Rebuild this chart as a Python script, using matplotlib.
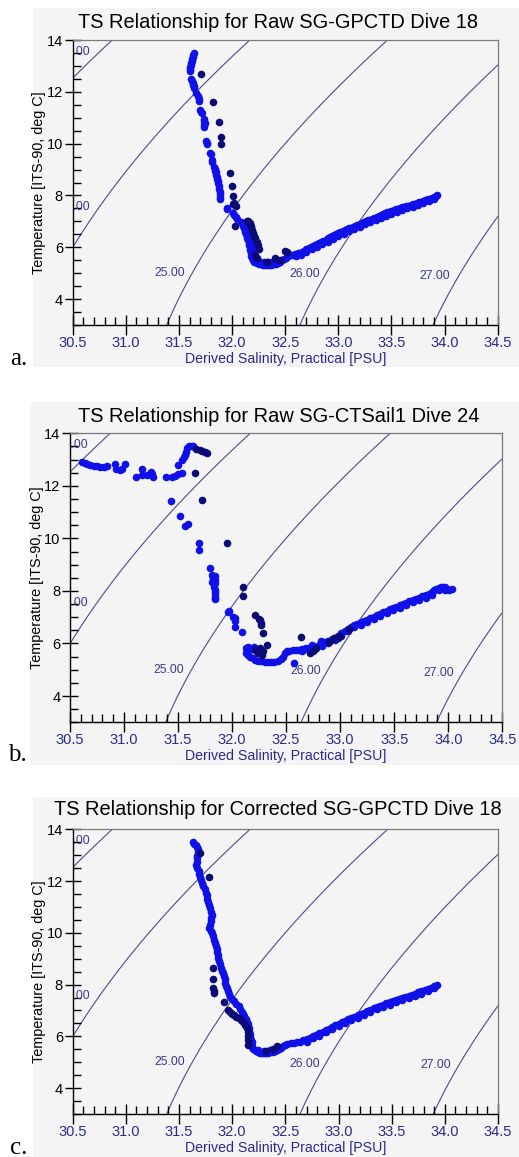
import numpy as np
import matplotlib
matplotlib.use('Agg')
import matplotlib.pyplot as plt
from matplotlib.patches import Rectangle
from matplotlib.ticker import MultipleLocator

plt.rcParams['font.family'] = ['Liberation Sans', 'DejaVu Sans']

# ---------------- data ----------------
titles = ['TS Relationship for Raw SG-GPCTD Dive 18',
          'TS Relationship for Raw SG-CTSail1 Dive 24',
          'TS Relationship for Corrected SG-GPCTD Dive 18']
letters = ['a.', 'b.', 'c.']
xlabel = 'Derived Salinity, Practical [PSU]'
ylabel = 'Temperature [ITS-90, deg C]'
x_ticks = [30.5, 31.0, 31.5, 32.0, 32.5, 33.0, 33.5, 34.0, 34.5]
y_ticks = [4, 6, 8, 10, 12, 14]
sigma_levels = [23.0, 24.0, 25.0, 26.0, 27.0]

# (salinity, temperature) samples
# panel a - bright blue series
pts_a1 = [(31.64, 13.49), (31.635, 13.42), (31.63, 13.35), (31.625, 13.28), (31.62, 13.20),
          (31.615, 13.12), (31.61, 13.04), (31.605, 12.96), (31.60, 12.88), (31.60, 12.80),
          (31.615, 12.50), (31.625, 12.42), (31.63, 12.35), (31.635, 12.28), (31.64, 12.21),
          (31.645, 12.14), (31.665, 11.95), (31.675, 11.85), (31.685, 11.72), (31.69, 11.66),
          (31.70, 11.30), (31.705, 11.22), (31.715, 11.18), (31.735, 10.95), (31.74, 10.88),
          (31.745, 10.80), (31.74, 10.72), (31.735, 10.65), (31.755, 10.12), (31.76, 10.04),
          (31.765, 9.98), (31.795, 9.65), (31.80, 9.60), (31.81, 9.35), (31.815, 9.28),
          (31.83, 9.10), (31.835, 9.02), (31.84, 8.96), (31.845, 8.90), (31.85, 8.80),
          (31.855, 8.72), (31.86, 8.64), (31.865, 8.55), (31.87, 8.48), (31.875, 8.38),
          (31.88, 8.25), (31.885, 8.15), (31.885, 8.05), (31.89, 7.95), (31.89, 7.85),
          (31.95, 7.51), (31.955, 7.47), (32.005, 7.33), (32.015, 7.26), (32.035, 7.15),
          (32.045, 7.10), (32.08, 6.98), (32.095, 6.92), (32.105, 6.84), (32.115, 6.74),
          (32.12, 6.66), (32.125, 6.58), (32.13, 6.52), (32.14, 6.44), (32.145, 6.36),
          (32.15, 6.28), (32.155, 6.18), (32.16, 6.08), (32.165, 5.98), (32.17, 5.88),
          (32.175, 5.78), (32.18, 5.68), (32.185, 5.58), (32.195, 5.50), (32.21, 5.44),
          (32.23, 5.40), (32.25, 5.37), (32.27, 5.34), (32.29, 5.32), (32.31, 5.31),
          (32.33, 5.31), (32.35, 5.32), (32.37, 5.33), (32.39, 5.35), (32.41, 5.37),
          (32.43, 5.41), (32.45, 5.45), (32.47, 5.50), (32.49, 5.55), (32.51, 5.60),
          (32.53, 5.66), (32.55, 5.70), (32.57, 5.72), (32.59, 5.74), (32.62, 5.76),
          (32.64, 5.79), (32.66, 5.83), (32.68, 5.87), (32.70, 5.92), (32.72, 5.96),
          (32.74, 6.01), (32.76, 6.05), (32.78, 6.09), (32.80, 6.13), (32.82, 6.17),
          (32.84, 6.21), (32.86, 6.25), (32.88, 6.29), (32.90, 6.34), (32.92, 6.39),
          (32.94, 6.44), (32.96, 6.48), (32.98, 6.52), (33.00, 6.55), (33.02, 6.59),
          (33.04, 6.63), (33.06, 6.66), (33.08, 6.70), (33.10, 6.73), (33.12, 6.76),
          (33.14, 6.80), (33.16, 6.84), (33.18, 6.87), (33.20, 6.91), (33.22, 6.95),
          (33.24, 6.98), (33.26, 7.01), (33.28, 7.04), (33.30, 7.07), (33.32, 7.11),
          (33.34, 7.14), (33.36, 7.18), (33.38, 7.21), (33.40, 7.25), (33.42, 7.29),
          (33.44, 7.32), (33.46, 7.35), (33.48, 7.38), (33.50, 7.41), (33.52, 7.43),
          (33.54, 7.46), (33.56, 7.49), (33.58, 7.51), (33.60, 7.54), (33.62, 7.56),
          (33.64, 7.59), (33.66, 7.61), (33.68, 7.63), (33.70, 7.66), (33.72, 7.68),
          (33.74, 7.70), (33.76, 7.73), (33.78, 7.76), (33.80, 7.79), (33.82, 7.82),
          (33.84, 7.85), (33.86, 7.88), (33.88, 7.91), (33.90, 7.94), (33.92, 7.97),
          (33.93, 8.00),
          (32.60, 5.68), (32.65, 5.72), (32.70, 5.82), (32.75, 5.92), (32.80, 6.02),
          (32.85, 6.12), (32.90, 6.22), (32.95, 6.32), (33.00, 6.42), (33.05, 6.52),
          (33.10, 6.62), (33.15, 6.70), (33.20, 6.80), (33.25, 6.88), (33.30, 6.97),
          (33.35, 7.05), (33.40, 7.13), (33.45, 7.21), (33.50, 7.30), (33.55, 7.37),
          (33.60, 7.44), (33.65, 7.50), (33.70, 7.56), (33.75, 7.62), (33.80, 7.70),
          (33.85, 7.77), (33.90, 7.86),
          (32.22, 5.50), (32.26, 5.45), (32.30, 5.42), (32.34, 5.42), (32.38, 5.44),
          (32.42, 5.47), (32.13, 6.85), (32.14, 6.75), (32.15, 6.65), (32.16, 6.55),
          (32.17, 6.40), (32.18, 6.25), (32.19, 6.10), (32.195, 5.95), (32.20, 5.80),
          (32.20, 5.65)]

# panel a - dark navy series
pts_a2 = [(31.71, 12.69), (31.82, 11.60), (31.877, 10.83), (31.90, 10.25), (31.893, 9.98),
          (31.98, 8.86), (32.00, 8.37), (32.005, 7.96), (32.02, 7.70), (32.04, 7.61),
          (32.01, 7.68), (32.03, 6.84), (32.14, 7.03), (32.15, 7.00), (32.17, 6.95),
          (32.175, 6.83), (32.18, 6.75), (32.19, 6.65), (32.20, 6.54), (32.21, 6.45),
          (32.22, 6.35), (32.23, 6.22), (32.24, 6.10), (32.25, 5.93), (32.22, 5.71),
          (32.23, 5.60), (32.33, 5.45), (32.40, 5.58), (32.45, 5.50), (32.50, 5.84),
          (32.52, 5.80)]

# panel b - bright blue series
pts_b1 = [(30.61, 12.92), (30.64, 12.86), (30.66, 12.82), (30.685, 12.79), (30.72, 12.77),
          (30.75, 12.76), (30.78, 12.72), (30.81, 12.71), (30.84, 12.76), (30.92, 12.83),
          (30.93, 12.63), (30.96, 12.60), (30.98, 12.63), (31.01, 12.83), (31.11, 12.32),
          (31.17, 12.63), (31.17, 12.41), (31.21, 12.40), (31.25, 12.54), (31.26, 12.45),
          (31.27, 12.35), (31.385, 12.32), (31.44, 12.35), (31.47, 12.38), (31.50, 12.45),
          (31.50, 12.79), (31.54, 12.50), (31.54, 12.98), (31.555, 13.10), (31.56, 13.18),
          (31.57, 13.30), (31.58, 13.43), (31.60, 13.50), (31.625, 13.52), (31.64, 13.50),
          (31.43, 11.44), (31.52, 10.85), (31.56, 10.47), (31.59, 10.55), (31.69, 9.84),
          (31.69, 9.56), (31.80, 8.86), (31.81, 8.60), (31.82, 8.50), (31.83, 8.45),
          (31.84, 8.55), (31.845, 8.40), (31.84, 8.30), (31.83, 8.25), (31.835, 8.15),
          (31.84, 8.05), (31.845, 7.95), (31.84, 7.85), (31.84, 7.75), (31.845, 7.70),
          (31.81, 8.35), (31.96, 7.21), (31.97, 7.25), (32.01, 7.00), (32.03, 6.96),
          (32.03, 6.85), (32.03, 6.64), (32.09, 6.45),
          (32.13, 5.81), (32.15, 5.88), (32.14, 5.75), (32.13, 5.65), (32.15, 5.58),
          (32.17, 5.50), (32.19, 5.44), (32.21, 5.39), (32.24, 5.35), (32.27, 5.32),
          (32.30, 5.30), (32.33, 5.29), (32.36, 5.30), (32.39, 5.31), (32.42, 5.34),
          (32.45, 5.40), (32.47, 5.50), (32.49, 5.62), (32.51, 5.70), (32.53, 5.73),
          (32.57, 5.24), (32.18, 5.80), (32.20, 5.87),
          (32.56, 5.75), (32.59, 5.75), (32.62, 5.77), (32.65, 5.79), (32.68, 5.81),
          (32.71, 5.84), (32.74, 5.86), (32.77, 5.88), (32.80, 5.93), (32.83, 5.99),
          (32.86, 6.05), (32.89, 6.11), (32.92, 6.16), (32.95, 6.22), (32.98, 6.30),
          (33.01, 6.38), (33.04, 6.47), (33.07, 6.56), (33.10, 6.64), (33.13, 6.70),
          (33.16, 6.75), (33.19, 6.80), (33.22, 6.85), (33.25, 6.90), (33.28, 6.96),
          (33.31, 7.02), (33.34, 7.08), (33.37, 7.14), (33.40, 7.20), (33.43, 7.25),
          (33.46, 7.30), (33.49, 7.35), (33.52, 7.40), (33.55, 7.45), (33.58, 7.50),
          (33.61, 7.55), (33.64, 7.60), (33.67, 7.65), (33.70, 7.70), (33.73, 7.75),
          (33.76, 7.80), (33.79, 7.84), (33.82, 7.88), (33.85, 7.95), (33.87, 8.02),
          (33.89, 8.08), (33.91, 8.12), (33.93, 8.15), (33.95, 8.16), (33.97, 8.14),
          (33.99, 8.08), (34.01, 8.05), (34.03, 8.06),
          (32.65, 5.70), (32.71, 5.75), (32.77, 5.80), (32.83, 5.90), (32.89, 6.02),
          (32.95, 6.13), (33.01, 6.29), (33.07, 6.47), (33.13, 6.61), (33.19, 6.71),
          (33.25, 6.81), (33.31, 6.93), (33.37, 7.05), (33.43, 7.16), (33.49, 7.26),
          (33.55, 7.36), (33.61, 7.46), (33.67, 7.56), (33.73, 7.66), (33.79, 7.75),
          (33.85, 7.86), (33.91, 8.03), (33.97, 8.05), (32.74, 5.95), (32.82, 6.08)]

# panel b - dark navy series
pts_b2 = [(31.67, 13.39), (31.70, 13.37), (31.72, 13.34), (31.75, 13.28), (31.77, 13.24),
          (31.66, 12.50), (31.72, 11.46), (31.95, 9.81), (32.10, 8.16), (32.10, 7.81),
          (32.21, 7.07), (32.25, 6.93), (32.26, 6.89), (32.27, 6.78), (32.27, 6.70),
          (32.29, 6.41), (32.32, 5.94), (32.26, 5.81), (32.29, 5.70), (32.24, 5.62),
          (32.28, 5.55), (32.21, 5.75), (32.64, 6.24), (32.72, 5.62), (32.75, 5.72),
          (32.78, 5.81), (32.90, 6.05), (32.94, 6.20), (32.98, 6.20), (33.00, 6.30),
          (33.08, 6.55)]

# panel c - bright blue series
pts_c1 = [(31.63, 13.49), (31.645, 13.45), (31.66, 13.40), (31.67, 13.33), (31.675, 13.25),
          (31.68, 13.18), (31.675, 13.08), (31.67, 12.98), (31.665, 12.88), (31.665, 12.75),
          (31.66, 12.62), (31.67, 12.50), (31.685, 12.38), (31.69, 12.28), (31.70, 12.15),
          (31.71, 12.04), (31.72, 11.92), (31.73, 11.80), (31.745, 11.68), (31.755, 11.55),
          (31.76, 11.45), (31.765, 11.32), (31.775, 11.20), (31.785, 11.08), (31.795, 10.95),
          (31.80, 10.82), (31.81, 10.70), (31.805, 10.58), (31.80, 10.45), (31.79, 10.32),
          (31.785, 10.20), (31.80, 10.08), (31.81, 9.98), (31.82, 9.86), (31.83, 9.74),
          (31.84, 9.62), (31.85, 9.50), (31.855, 9.38), (31.86, 9.26), (31.865, 9.14),
          (31.87, 9.02), (31.88, 8.90), (31.885, 8.78), (31.895, 8.66), (31.905, 8.54),
          (31.915, 8.44), (31.92, 8.32), (31.93, 8.20), (31.935, 8.08), (31.945, 7.96),
          (31.95, 7.86), (31.96, 7.74), (31.97, 7.62), (31.98, 7.52), (32.00, 7.44),
          (32.02, 7.36), (32.04, 7.26), (32.06, 7.16), (32.075, 7.06), (32.09, 6.96),
          (32.10, 6.86), (32.115, 6.77), (32.13, 6.66), (32.14, 6.56), (32.15, 6.46),
          (32.155, 6.34), (32.16, 6.22), (32.165, 6.10), (32.17, 5.98), (32.175, 5.86),
          (32.18, 5.74), (32.185, 5.62), (32.20, 5.52), (32.22, 5.45), (32.24, 5.40),
          (32.26, 5.37), (32.28, 5.35), (32.30, 5.34), (32.32, 5.35), (32.34, 5.37),
          (32.36, 5.39), (32.38, 5.41), (32.40, 5.44), (32.42, 5.47), (32.44, 5.51),
          (32.46, 5.56), (32.48, 5.61), (32.50, 5.66), (32.52, 5.71), (32.55, 5.74),
          (32.58, 5.76), (32.61, 5.78), (32.64, 5.80),
          (32.67, 5.84), (32.70, 5.89), (32.73, 5.95), (32.76, 6.00), (32.79, 6.06),
          (32.82, 6.12), (32.85, 6.18), (32.88, 6.24), (32.91, 6.30), (32.94, 6.36),
          (32.97, 6.43), (33.00, 6.49), (33.03, 6.55), (33.06, 6.60), (33.09, 6.66),
          (33.12, 6.71), (33.15, 6.76), (33.18, 6.81), (33.21, 6.87), (33.24, 6.92),
          (33.27, 6.98), (33.30, 7.03), (33.33, 7.08), (33.36, 7.13), (33.39, 7.18),
          (33.42, 7.22), (33.45, 7.27), (33.48, 7.31), (33.51, 7.35), (33.54, 7.39),
          (33.57, 7.44), (33.60, 7.48), (33.63, 7.52), (33.66, 7.57), (33.69, 7.61),
          (33.72, 7.65), (33.75, 7.70), (33.78, 7.74), (33.81, 7.79), (33.84, 7.83),
          (33.87, 7.88), (33.90, 7.94), (33.93, 8.00),
          (32.70, 5.80), (32.76, 5.92), (32.82, 6.03), (32.88, 6.15), (32.94, 6.27),
          (33.00, 6.40), (33.06, 6.51), (33.12, 6.62), (33.18, 6.72), (33.24, 6.83),
          (33.30, 6.94), (33.36, 7.04), (33.42, 7.13), (33.48, 7.22), (33.54, 7.31),
          (33.60, 7.39), (33.66, 7.48), (33.72, 7.56), (33.78, 7.65), (33.84, 7.75),
          (33.90, 7.86), (32.24, 5.48), (32.30, 5.44), (32.36, 5.46), (32.42, 5.54),
          (32.19, 5.60), (32.19, 5.80)]

# panel c - dark navy series
pts_c2 = [(31.70, 13.10), (31.785, 12.15), (31.82, 8.63), (31.815, 8.21), (31.82, 7.86),
          (31.825, 7.76), (31.83, 7.67), (31.92, 7.31), (31.96, 7.00), (31.98, 6.95),
          (32.00, 6.88), (32.02, 6.82), (32.04, 6.76), (32.06, 6.70), (32.08, 6.62),
          (32.10, 6.54), (32.12, 6.44), (32.135, 6.32), (32.145, 6.15), (32.15, 6.00),
          (32.15, 5.85), (32.15, 5.67), (32.32, 5.42), (32.38, 5.50), (32.42, 5.61)]

panel_pts = [(pts_a1, pts_a2), (pts_b1, pts_b2), (pts_c1, pts_c2)]

# contour label positions (S, T) and texts
clabel_pos = [(30.665, 13.55, '23.00', 'right'), (30.665, 7.55, '24.00', 'right'),
              (31.41, 5.0, '25.00', 'center'), (32.68, 4.95, '26.00', 'center'),
              (33.91, 4.88, '27.00', 'center')]


def sigma_t(S, T):
    rho_w = (999.842594 + 6.793952e-2 * T - 9.095290e-3 * T**2 + 1.001685e-4 * T**3
             - 1.120083e-6 * T**4 + 6.536332e-9 * T**5)
    A = 0.824493 - 4.0899e-3 * T + 7.6438e-5 * T**2 - 8.2467e-7 * T**3 + 5.3875e-9 * T**4
    B = -5.72466e-3 + 1.0227e-4 * T - 1.6546e-6 * T**2
    C = 4.8314e-4
    return rho_w + A * S + B * S**1.5 + C * S**2 - 1000.0


# ---------------- layout (pixels) ----------------
W, H = 519, 1157
fig = plt.figure(figsize=(W / 100, H / 100), dpi=100)
fig.patch.set_facecolor('white')

BG = '#f4f4f4'
NAVY_TXT = '#2a2a8c'
CONT = '#4d4d88'
BRIGHT = '#1010e8'
DARK = '#0b0b78'

bg_boxes = [(33, 8, 519, 367), (30, 402, 519, 765), (33, 797, 519, 1157)]
ax_boxes = [(72.7, 40, 497.7, 325), (70, 433.3, 502.3, 722.3), (72.7, 829.3, 498, 1114)]
title_pos = [(278.5, 28.5), (279, 421.5), (277.5, 815)]
letter_pos = [(10, 365), (8, 761), (10, 1154)]
ylabel_x = [39.5, 37.5, 39.5]

Sg, Tg = np.meshgrid(np.linspace(30.0, 35.0, 300), np.linspace(2.0, 15.0, 300))
SIG = sigma_t(Sg, Tg)

for i in range(3):
    x0, y0, x1, y1 = bg_boxes[i]
    fig.patches.append(Rectangle((x0 / W, 1 - y1 / H), (x1 - x0) / W, (y1 - y0) / H,
                                 transform=fig.transFigure, facecolor=BG,
                                 edgecolor='none', zorder=-10))
    ax0, ay0, ax1, ay1 = ax_boxes[i]
    ax = fig.add_axes([ax0 / W, 1 - ay1 / H, (ax1 - ax0) / W, (ay1 - ay0) / H])
    ax.set_zorder(1)
    ax.set_facecolor(BG)
    ax.set_xlim(30.5, 34.5)
    ax.set_ylim(3, 14)

    ax.contour(Sg, Tg, SIG, levels=sigma_levels, colors=CONT, linewidths=0.8, zorder=1)
    for (s, t, txt, ha) in clabel_pos:
        ax.text(s, t, txt, color='#3a3a88', fontsize=8.7, ha=ha, va='center',
                clip_on=True, zorder=2)

    p1, p2 = panel_pts[i]
    ax.scatter([p[0] for p in p1], [p[1] for p in p1], s=30, color=BRIGHT,
               linewidths=0, zorder=3)
    ax.scatter([p[0] for p in p2], [p[1] for p in p2], s=30, color=DARK,
               linewidths=0, zorder=4)

    # spines
    for side in ['top', 'right']:
        ax.spines[side].set_color('#7a7a7a')
        ax.spines[side].set_linewidth(0.9)
    for side in ['left', 'bottom']:
        ax.spines[side].set_color('black')
        ax.spines[side].set_linewidth(1.0)

    ax.set_xticks(x_ticks)
    ax.set_xticklabels(['%.1f' % v for v in x_ticks])
    ax.set_yticks(y_ticks)
    ax.set_yticklabels([str(v) for v in y_ticks])
    ax.xaxis.set_minor_locator(MultipleLocator(0.1))
    ax.yaxis.set_minor_locator(MultipleLocator(0.5))
    ax.tick_params(axis='x', which='major', direction='inout', length=14, width=1,
                   labelsize=10.5, labelcolor=NAVY_TXT, pad=1, color='black')
    ax.tick_params(axis='x', which='minor', direction='in', length=6, width=1, color='black')
    ax.tick_params(axis='y', which='major', direction='inout', length=12, width=1,
                   labelsize=10.5, labelcolor='black', pad=1, color='black')
    ax.tick_params(axis='y', which='minor', direction='in', length=6, width=1, color='black')

    # texts
    tx, ty = title_pos[i]
    fig.text(tx / W, 1 - ty / H, titles[i], ha='center', va='baseline', fontsize=14.4,
             color='black')
    fig.text(((ax0 + ax1) / 2) / W, 1 - (ay1 + 34) / H, xlabel, ha='center', va='center',
             fontsize=10.2, color=NAVY_TXT)
    fig.text(ylabel_x[i] / W, 1 - ((ay0 + ay1) / 2) / H, ylabel, ha='center', va='center',
             rotation=90, fontsize=10.4, color='black')
    lx, ly = letter_pos[i]
    fig.text(lx / W, 1 - ly / H, letters[i], ha='left', va='baseline', fontsize=18,
             family=['Liberation Serif', 'DejaVu Serif'], color='black')

fig.savefig('out.png', dpi=100, facecolor='white')
